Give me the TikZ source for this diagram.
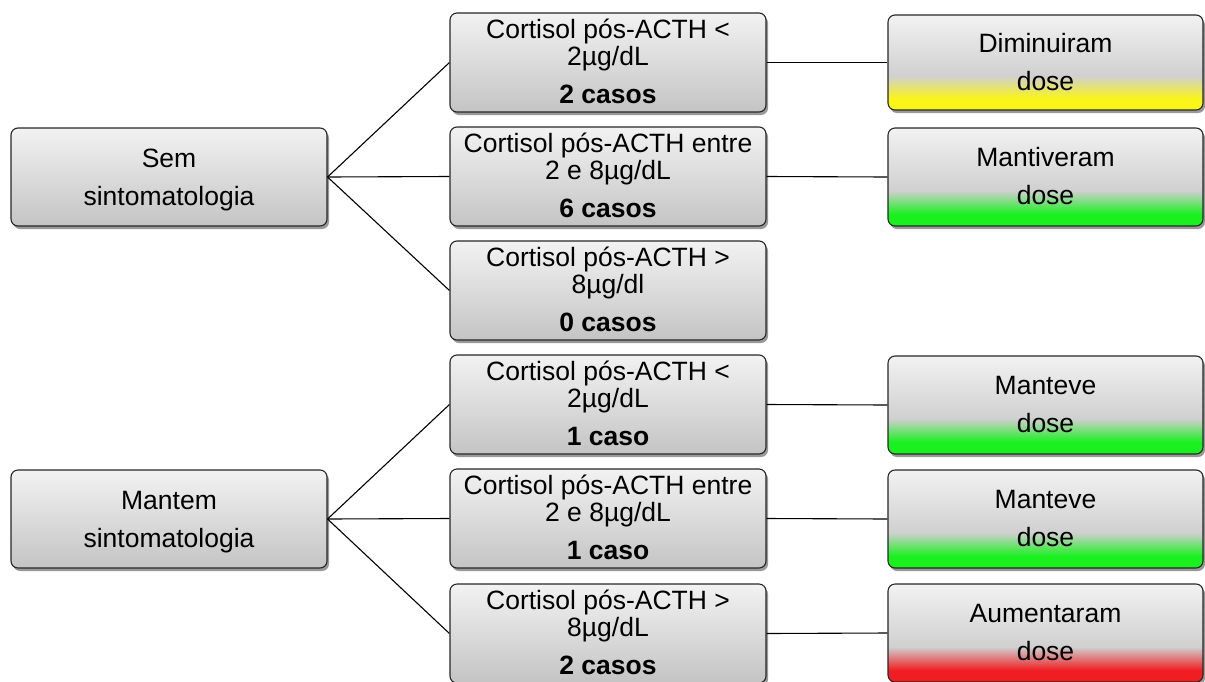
\documentclass[tikz,border=0pt]{standalone}
\usepackage{fontspec}
\setmainfont{Liberation Sans}
\usetikzlibrary{shadows}
\definecolor{gtop}{RGB}{242,242,242}
\definecolor{gbot}{RGB}{196,196,196}
\definecolor{gmid}{RGB}{208,208,208}
\definecolor{ylw}{RGB}{250,245,25}
\definecolor{grn}{RGB}{25,240,30}
\definecolor{rd}{RGB}{240,30,35}
\pgfdeclareverticalshading{yelsh}{100bp}{color(0bp)=(ylw); color(25bp)=(ylw); color(31bp)=(ylw); color(43bp)=(gmid); color(75bp)=(gtop); color(100bp)=(gtop)}
\pgfdeclareverticalshading{grnsh}{100bp}{color(0bp)=(grn); color(25bp)=(grn); color(31bp)=(grn); color(43bp)=(gmid); color(75bp)=(gtop); color(100bp)=(gtop)}
\pgfdeclareverticalshading{rdsh}{100bp}{color(0bp)=(rd); color(25bp)=(rd); color(31bp)=(rd); color(43bp)=(gmid); color(75bp)=(gtop); color(100bp)=(gtop)}
\begin{document}
\begin{tikzpicture}[x=1pt,y=-1pt,
  box/.style={draw=black!85, line width=1.1pt, rounded corners=7pt, inner sep=0pt,
    drop shadow={shadow xshift=2pt, shadow yshift=-3pt, opacity=0.4, fill=black}},
  grey/.style={box, top color=gtop, bottom color=gbot},
  yel/.style={box, shading=yelsh},
  gre/.style={box, shading=grnsh},
  red/.style={box, shading=rdsh},
  txt/.style={font=\fontsize{26.5}{30}\selectfont, anchor=base, inner sep=0pt},
  conn/.style={draw=black, line width=1.1pt}]
\useasboundingbox (0,0) rectangle (1205,681);

% left boxes
\node[grey, minimum width=316pt, minimum height=98pt] (s) at (169,177) {};
\node[grey, minimum width=316pt, minimum height=98pt] (k) at (169,519) {};
% middle boxes
\foreach \n/\c in {m1/62.5, m2/176.5, m3/290.5, m4/404.5, m5/518.5, m6/633.5}
  \node[grey, minimum width=316pt, minimum height=99pt] (\n) at (608,\c) {};
% right boxes
\node[yel, minimum width=315pt, minimum height=95pt] (r1) at (1045.5,62.5) {};
\node[gre, minimum width=315pt, minimum height=98pt] (r2) at (1045.5,177) {};
\node[gre, minimum width=315pt, minimum height=98pt] (r4) at (1045.5,405) {};
\node[gre, minimum width=315pt, minimum height=98pt] (r5) at (1045.5,519) {};
\node[red, minimum width=315pt, minimum height=98pt] (r6) at (1045.5,633) {};

% connectors
\draw[conn] (s.east) -- (m1.west);
\draw[conn] (s.east) -- (m2.west);
\draw[conn] (s.east) -- (m3.west);
\draw[conn] (k.east) -- (m4.west);
\draw[conn] (k.east) -- (m5.west);
\draw[conn] (k.east) -- (m6.west);
\draw[conn] (m1.east) -- (r1.west);
\draw[conn] (m2.east) -- (r2.west);
\draw[conn] (m4.east) -- (r4.west);
\draw[conn] (m5.east) -- (r5.west);
\draw[conn] (m6.east) -- (r6.west);

% left texts
\node[txt] (sa) at (169,167) {Sem};
\node[txt] (sb) at (169,205) {sintomatologia};
\node[txt] (ka) at (169,509) {Mantem};
\node[txt] (kb) at (169,547) {sintomatologia};

% middle texts
\node[txt] (m1a) at (608,38) {Cortisol pós-ACTH <};
\node[txt] (m1b) at (608,65) {2µg/dL};
\node[txt] (m1c) at (608,103) {\bfseries 2 casos};
\node[txt] (m2a) at (608,152) {Cortisol pós-ACTH entre};
\node[txt] (m2b) at (608,179) {2 e 8µg/dL};
\node[txt] (m2c) at (608,217) {\bfseries 6 casos};
\node[txt] (m3a) at (608,266) {Cortisol pós-ACTH >};
\node[txt] (m3b) at (608,293) {8µg/dl};
\node[txt] (m3c) at (608,331) {\bfseries 0 casos};
\node[txt] (m4a) at (608,380) {Cortisol pós-ACTH <};
\node[txt] (m4b) at (608,407) {2µg/dL};
\node[txt] (m4c) at (608,445) {\bfseries 1 caso};
\node[txt] (m5a) at (608,494) {Cortisol pós-ACTH entre};
\node[txt] (m5b) at (608,521) {2 e 8µg/dL};
\node[txt] (m5c) at (608,559) {\bfseries 1 caso};
\node[txt] (m6a) at (608,609) {Cortisol pós-ACTH >};
\node[txt] (m6b) at (608,636) {8µg/dL};
\node[txt] (m6c) at (608,674) {\bfseries 2 casos};

% right texts
\node[txt] (r1a) at (1045.5,52) {Diminuiram};
\node[txt] (r1b) at (1045.5,90) {dose};
\node[txt] (r2a) at (1045.5,166) {Mantiveram};
\node[txt] (r2b) at (1045.5,204) {dose};
\node[txt] (r4a) at (1045.5,394) {Manteve};
\node[txt] (r4b) at (1045.5,432) {dose};
\node[txt] (r5a) at (1045.5,508) {Manteve};
\node[txt] (r5b) at (1045.5,546) {dose};
\node[txt] (r6a) at (1045.5,622) {Aumentaram};
\node[txt] (r6b) at (1045.5,660) {dose};
\end{tikzpicture}
\end{document}
